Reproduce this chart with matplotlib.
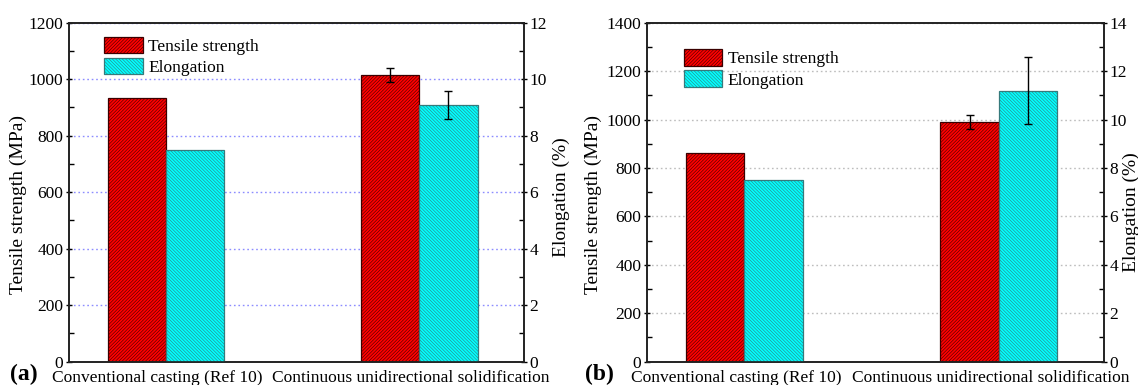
import numpy as np
import matplotlib
matplotlib.use("Agg")
import matplotlib.pyplot as plt
from matplotlib.ticker import MultipleLocator

plt.rcParams['font.family'] = ['Liberation Serif', 'DejaVu Serif']
plt.rcParams['hatch.linewidth'] = 0.4

# data
categories = ['Conventional casting (Ref 10)', 'Continuous unidirectional solidification']

a_strength = [935, 1015]
a_strength_err = [np.nan, 25]
a_elong = [7.5, 9.1]
a_elong_err = [np.nan, 0.5]

b_strength = [860, 990]
b_strength_err = [np.nan, 30]
b_elong = [7.5, 11.2]
b_elong_err = [np.nan, 1.4]

W, H = 1138, 385
fig = plt.figure(figsize=(W / 100, H / 100), dpi=100)

RED = '#ff0000'
CYAN = '#00ffff'


def panel(left_px, width_px, strength, s_err, elong, e_err, s_max, e_max,
          grid_color, letter, letter_x, leg_xy, llabel_x, rlabel_xy):
    bottom = (H - 361.7) / H
    height = (361.7 - 22.7) / H
    ax = fig.add_axes([left_px / W, bottom, width_px / W, height])
    ax2 = ax.twinx()

    x = np.arange(len(categories))
    w = 0.23
    shift = 0.032
    b1 = ax.bar(x + shift - w / 2, strength, w, color=RED, edgecolor='#3a0000',
                linewidth=0.9, hatch='/' * 10, label='Tensile strength',
                yerr=s_err, capsize=3,
                error_kw=dict(ecolor='black', elinewidth=1, capthick=1))
    b2 = ax2.bar(x + shift + w / 2, elong, w, color=CYAN, edgecolor='#357a7c',
                 linewidth=0.9, hatch='\\' * 10, label='Elongation',
                 yerr=e_err, capsize=3,
                 error_kw=dict(ecolor='black', elinewidth=1, capthick=1))

    ax.set_xlim(-0.35, 1.445)
    ax.set_ylim(0, s_max)
    ax2.set_ylim(0, e_max)
    ax.yaxis.set_major_locator(MultipleLocator(200))
    ax.yaxis.set_minor_locator(MultipleLocator(100))
    ax2.yaxis.set_major_locator(MultipleLocator(2))
    ax2.yaxis.set_minor_locator(MultipleLocator(1))

    ax.set_xticks(x)
    ax.set_xticklabels(categories, fontsize=12.5)
    ax.tick_params(axis='x', length=0, pad=6)
    for a in (ax, ax2):
        a.tick_params(axis='y', which='major', direction='inout', length=5,
                      width=1, pad=1.5, labelsize=12.5)
        a.tick_params(axis='y', which='minor', direction='in', length=3.5,
                      width=1)
        for sp in a.spines.values():
            sp.set_linewidth(1.2)
            sp.set_color('#222222')

    ax.set_axisbelow(True)
    ax.grid(axis='y', which='major', color=grid_color, linestyle=(0, (1.2, 2)),
            linewidth=1)

    ax.set_ylabel('Tensile strength (MPa)', fontsize=14)
    ax.yaxis.set_label_coords(llabel_x, 0.465)
    ax2.set_ylabel('Elongation (%)', fontsize=14)
    ax2.yaxis.set_label_coords(rlabel_xy[0], rlabel_xy[1])

    ax.legend([b1, b2], ['Tensile strength', 'Elongation'], loc='upper left',
              bbox_to_anchor=leg_xy, frameon=False, fontsize=12.5,
              borderpad=0, borderaxespad=0, handlelength=2.24,
              handleheight=1.09, handletextpad=0.3, labelspacing=0.17)

    fig.text(letter_x / W, 5 / H, letter, fontsize=17, fontweight='bold',
             va='baseline', ha='left')
    return ax


panel(69, 455, a_strength, a_strength_err, a_elong, a_elong_err, 1200, 12,
      '#8c8cff', '(a)', 10, (0.077, 0.9587), -0.092, (1.064, 0.486))
panel(647, 457, b_strength, b_strength_err, b_elong, b_elong_err, 1400, 14,
      '#bdbdbd', '(b)', 585, (0.080, 0.9215), -0.098, (1.040, 0.44))

fig.savefig('out.png', dpi=100)
